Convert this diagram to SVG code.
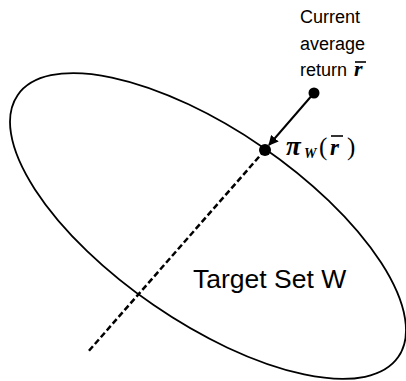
<svg xmlns="http://www.w3.org/2000/svg" width="406" height="381" viewBox="0 0 406 381">
<defs>
<marker id="ah" viewBox="0 0 10 10" refX="9" refY="5" markerWidth="10" markerHeight="10" markerUnits="userSpaceOnUse" orient="auto">
<path d="M0,0 L10,5 L0,10 z" fill="#000"/>
</marker>
<style>
.lbl{font-family:"Liberation Sans",Arial,sans-serif;fill:#000}
.m{font-family:"Liberation Serif","Times New Roman",serif;fill:#000}
.bi{font-weight:bold;font-style:italic}
</style>
</defs>
<rect width="406" height="381" fill="#fff"/>
<g id="target-set">
<ellipse cx="208" cy="226" rx="231" ry="96" transform="rotate(34.5 208 226)" fill="none" stroke="#000" stroke-width="1.8"/>
<text class="lbl" x="193" y="288" font-size="26.5">Target Set W</text>
</g>
<g id="connectors">
<line x1="265" y1="150" x2="87" y2="353" stroke="#000" stroke-width="2.5" stroke-dasharray="6,3"/>
<line x1="314" y1="93" x2="269" y2="145" stroke="#000" stroke-width="2" marker-end="url(#ah)"/>
</g>
<g id="current-return">
<circle cx="314" cy="93" r="5.5" fill="#000"/>
<text class="lbl" font-size="18"><tspan x="300" y="23">Current</tspan><tspan x="300" y="50">average</tspan><tspan x="300" y="76">return</tspan></text>
<text class="m bi" x="354" y="76" font-size="22">r</text>
<line x1="355" y1="62" x2="366" y2="62" stroke="#000" stroke-width="1.6"/>
</g>
<g id="projection">
<circle cx="265" cy="150" r="6" fill="#000"/>
<text class="m bi" x="286" y="155" font-size="27">π</text>
<text class="m bi" x="304" y="158" font-size="14">W</text>
<text class="m" x="319" y="155" font-size="25">(</text>
<text class="m bi" x="330" y="155" font-size="23">r</text>
<line x1="331" y1="136" x2="343" y2="136" stroke="#000" stroke-width="1.6"/>
<text class="m" x="347" y="155" font-size="25">)</text>
</g>
</svg>
